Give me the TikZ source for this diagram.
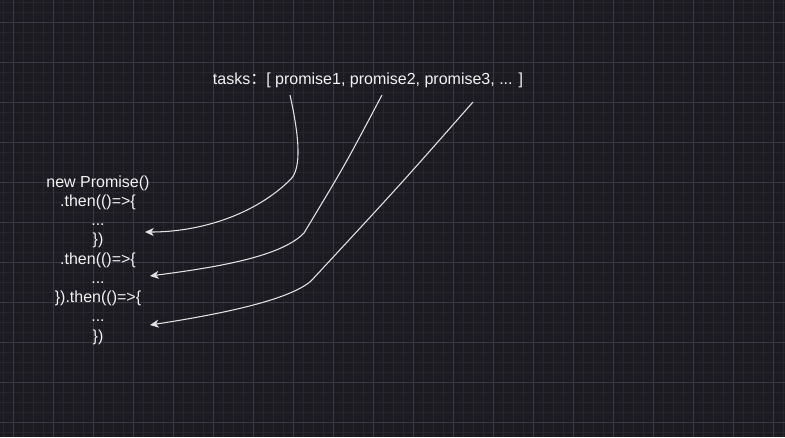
\documentclass[tikz,border=0pt]{standalone}
\usepackage{fontspec}
\setmainfont{Liberation Sans}
\newfontfamily\cjk{Noto Sans CJK SC}
\usepackage{tikz}
\usetikzlibrary{arrows.meta}
\definecolor{bgc}{HTML}{1C1B22}
\definecolor{minorc}{HTML}{27262D}
\definecolor{majorc}{HTML}{3A3941}
\definecolor{inkc}{HTML}{F2F2F2}
\definecolor{linec}{HTML}{E2E2E2}
\tikzset{
    txt/.style = {text=inkc, font=\fontsize{12}{14}\selectfont, inner sep=0pt, anchor=base},
    minorline/.style = {draw=minorc, line width=0.6pt},
    majorline/.style = {draw=majorc, line width=0.7pt},
    link/.style = {draw=linec, line width=0.8pt, -{Stealth[length=6.5pt,width=6pt,inset=1.8pt]}}
}

\begin{document}
\begin{tikzpicture}[x=0.75pt,y=-0.75pt]
        \useasboundingbox (0,0) rectangle (785,437);
        \fill[bgc] (0,0) rectangle (785,437);
        % grid
        \foreach \x in {3,13,...,783} \path[minorline] (\x,0) -- (\x,437);
        \foreach \y in {2,12,...,432} \path[minorline] (0,\y) -- (785,\y);
        \foreach \x in {13,53,...,773} \path[majorline] (\x,0) -- (\x,437);
        \foreach \y in {22,62,...,422} \path[majorline] (0,\y) -- (785,\y);

        \node[txt] (t) at (368, 84) {tasks{\cjk ：}[ promise1, promise2, promise3, ... ]};

        \node[txt] (1) at (98, 187) {new Promise()};
        \node[txt] (2) at (98, 206.25) {.then(()=>\{};
        \node[txt] (3) at (98, 225.5) {...};
        \node[txt] (4) at (98, 244.75) {\})};
        \node[txt] (5) at (98, 264) {.then(()=>\{};
        \node[txt] (6) at (98, 283.25) {...};
        \node[txt] (7) at (98, 302.5) {\}).then(()=>\{};
        \node[txt] (8) at (98, 321.75) {...};
        \node[txt] (9) at (98, 341) {\})};

        \coordinate (p1) at (290, 95);
        \coordinate (p2) at (382, 95);
        \coordinate (p3) at (473, 102);
        \coordinate (e1) at (145, 232);
        \coordinate (e2) at (150, 276);
        \coordinate (e3) at (150, 325);

        \path[link] (p1) .. controls (300, 140) and (301, 168) .. (291, 179)
            .. controls (255, 215) and (200, 232) .. (e1);
        \path[link] (p2) .. controls (345, 165) .. (304, 233)
            .. controls (280, 258) and (210, 268) .. (e2);
        \path[link] (p3) .. controls (400, 185) .. (311, 281)
            .. controls (288, 301) and (215, 315) .. (e3);
    \end{tikzpicture}
\end{document}
